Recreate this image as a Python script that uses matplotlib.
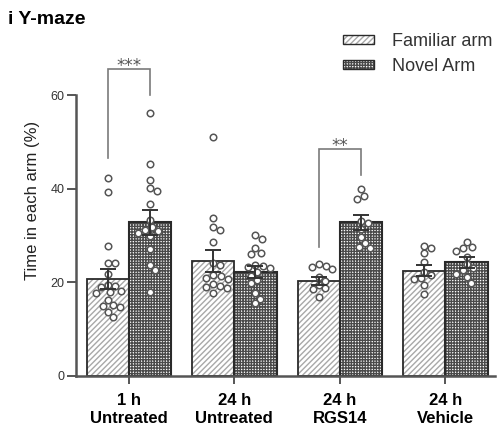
import numpy as np
import matplotlib
matplotlib.use("Agg")
import matplotlib.pyplot as plt
from matplotlib.patches import Patch

plt.rcParams['font.family'] = ['Liberation Sans', 'DejaVu Sans']
plt.rcParams['hatch.linewidth'] = 1.0

# ---- data -------------------------------------------------------------
groups = ["1 h\nUntreated", "24 h\nUntreated", "24 h\nRGS14", "24 h\nVehicle"]
series_names = ["Familiar arm", "Novel Arm"]

familiar_mean = [20.7, 24.6, 20.3, 22.5]
familiar_sem = [2.2, 2.3, 0.9, 1.2]
novel_mean = [32.8, 22.2, 32.8, 24.3]
novel_sem = [2.6, 1.2, 1.5, 1.2]

familiar_points = [
    [42.3, 39.3, 27.8, 24.1, 24.1, 21.8, 19.5, 19.2, 19.0, 18.2, 18.0, 17.8,
     16.2, 15.2, 15.0, 14.8, 13.7, 12.7],
    [51.0, 33.7, 31.8, 31.3, 28.7, 24.2, 23.8, 21.6, 21.3, 21.0, 20.8, 19.6,
     19.2, 19.0, 18.7, 17.8],
    [24.0, 23.6, 23.2, 22.8, 21.2, 20.4, 19.5, 18.8, 18.5, 16.9],
    [27.8, 27.3, 26.2, 24.4, 22.3, 21.6, 20.9, 20.7, 19.4, 17.5],
]
novel_points = [
    [56.3, 45.4, 41.8, 40.1, 39.6, 36.8, 33.3, 31.8, 31.3, 31.0, 30.5, 29.9,
     27.1, 23.7, 22.6, 18.0],
    [30.1, 29.3, 27.3, 26.3, 26.0, 23.8, 23.5, 23.3, 23.0, 22.3, 21.4, 20.5,
     19.8, 17.7, 16.5, 15.5],
    [39.9, 38.5, 37.8, 33.2, 32.6, 31.5, 29.8, 28.5, 27.6, 27.3],
    [28.6, 27.5, 27.3, 26.8, 25.5, 23.9, 23.0, 22.6, 21.9, 21.2, 19.9],
]

# significance brackets: (group index, top of bracket, left leg bottom, right leg bottom, label)
sig_group = [0, 2]
sig_top = [65.7, 48.6]
sig_left_bottom = [46.6, 27.6]
sig_right_bottom = [60.0, 43.0]
sig_label = ["***", "**"]

# ---- figure -------------------------------------------------------------
W, H = 498, 430
fig = plt.figure(figsize=(W / 100, H / 100), dpi=100)
ax = fig.add_axes([76 / W, 1 - 376 / H, 419 / W, 351 / H])
ax.set_xlim(-0.5, 3.47)
ax.set_ylim(0, 75)

x = np.arange(len(groups))
bw = 0.4
edge = '#2a2a2a'
fam_hatch, nov_hatch = '//////', '++++++'
fam_hcol, nov_hcol = '#a8a8a8', '#4a4a4a'

b1 = ax.bar(x - bw / 2, familiar_mean, bw, zorder=2, facecolor='white',
            edgecolor=edge, hatch=fam_hatch, linewidth=1.3)
b2 = ax.bar(x + bw / 2, novel_mean, bw, zorder=2, facecolor='white',
            edgecolor=edge, hatch=nov_hatch, linewidth=1.5)
for b in b1:
    b._hatch_color = matplotlib.colors.to_rgba(fam_hcol)
for b in b2:
    b._hatch_color = matplotlib.colors.to_rgba(nov_hcol)

# beeswarm offsets computed in pixel space
fig.canvas.draw()
px_per_x = ax.transData.transform((1, 0))[0] - ax.transData.transform((0, 0))[0]
px_per_y = ax.transData.transform((0, 1))[1] - ax.transData.transform((0, 0))[1]


def swarm(values, diam=7.2, step=0.5, limit=19):
    order = np.argsort(values)[::-1]
    placed = []
    offs = np.zeros(len(values))
    for i in order:
        yv = values[i] * px_per_y
        cands = [0.0]
        k = 1
        while k * step <= limit:
            cands += [k * step, -k * step]
            k += 1
        chosen = cands[-1]
        for c in cands:
            if all((c - px) ** 2 + (yv - py) ** 2 >= diam ** 2 for px, py in placed):
                chosen = c
                break
        placed.append((chosen, yv))
        offs[i] = chosen
    return offs / px_per_x


for gi in range(len(groups)):
    for pts, cx in ((familiar_points[gi], x[gi] - bw / 2),
                    (novel_points[gi], x[gi] + bw / 2)):
        vals = np.array(pts)
        ax.scatter(cx + swarm(vals), vals, s=22, facecolor='white',
                   edgecolor='#555555', linewidth=1.1, zorder=3)

ax.errorbar(x - bw / 2, familiar_mean, yerr=familiar_sem, fmt='none',
            ecolor='#333333', elinewidth=1.4, capsize=6, capthick=1.4, zorder=4)
ax.errorbar(x + bw / 2, novel_mean, yerr=novel_sem, fmt='none',
            ecolor='#333333', elinewidth=1.4, capsize=6, capthick=1.4, zorder=4)

# significance brackets
for g, top, lb, rb, lab in zip(sig_group, sig_top, sig_left_bottom,
                               sig_right_bottom, sig_label):
    xl, xr = x[g] - bw / 2, x[g] + bw / 2
    ax.plot([xl, xl, xr, xr], [lb, top, top, rb], color='#7a7a7a', lw=1.2,
            zorder=1, solid_joinstyle='miter')
    ax.text((xl + xr) / 2, top + 0.6, lab, ha='center', va='center',
            fontsize=12, color='#555555', family='DejaVu Sans')

# axes styling
for s in ('top', 'right'):
    ax.spines[s].set_visible(False)
ax.spines['left'].set_bounds(0, 60)
ax.spines['left'].set_linewidth(1.8)
ax.spines['left'].set_color('#555555')
ax.spines['bottom'].set_linewidth(1.8)
ax.spines['bottom'].set_color('#555555')

ax.set_yticks([0, 20, 40, 60])
ax.set_xticks(x)
ax.set_xticklabels(groups, fontsize=12, fontweight='bold', linespacing=1.3)
ax.tick_params(axis='y', length=6.5, width=1.4, color='#555555',
               labelsize=9, labelcolor='#333333', pad=2)
ax.tick_params(axis='x', length=6, width=1.4, color='#555555', pad=6)
ax.set_ylabel("Time in each arm (%)", fontsize=12, color='#222222', labelpad=7)

fig.text(8 / W, 1 - 20 / H, "i Y-maze", fontsize=14, fontweight='bold',
         va='center', ha='left')

# legend
h1 = Patch(facecolor='white', edgecolor=edge, hatch=fam_hatch, linewidth=1.0)
h2 = Patch(facecolor='white', edgecolor=edge, hatch=nov_hatch, linewidth=1.0)
h1._hatch_color = matplotlib.colors.to_rgba(fam_hcol)
h2._hatch_color = matplotlib.colors.to_rgba(nov_hcol)
leg = fig.legend([h1, h2], series_names, loc='upper left',
                 bbox_to_anchor=(343 / W, 1 - 33 / H), frameon=False,
                 fontsize=13, handlelength=1.7, handleheight=0.4,
                 handletextpad=1.0, labelspacing=0.45, borderpad=0,
                 borderaxespad=0)
for t in leg.get_texts():
    t.set_color('#333333')

fig.savefig("out.png", dpi=100)
